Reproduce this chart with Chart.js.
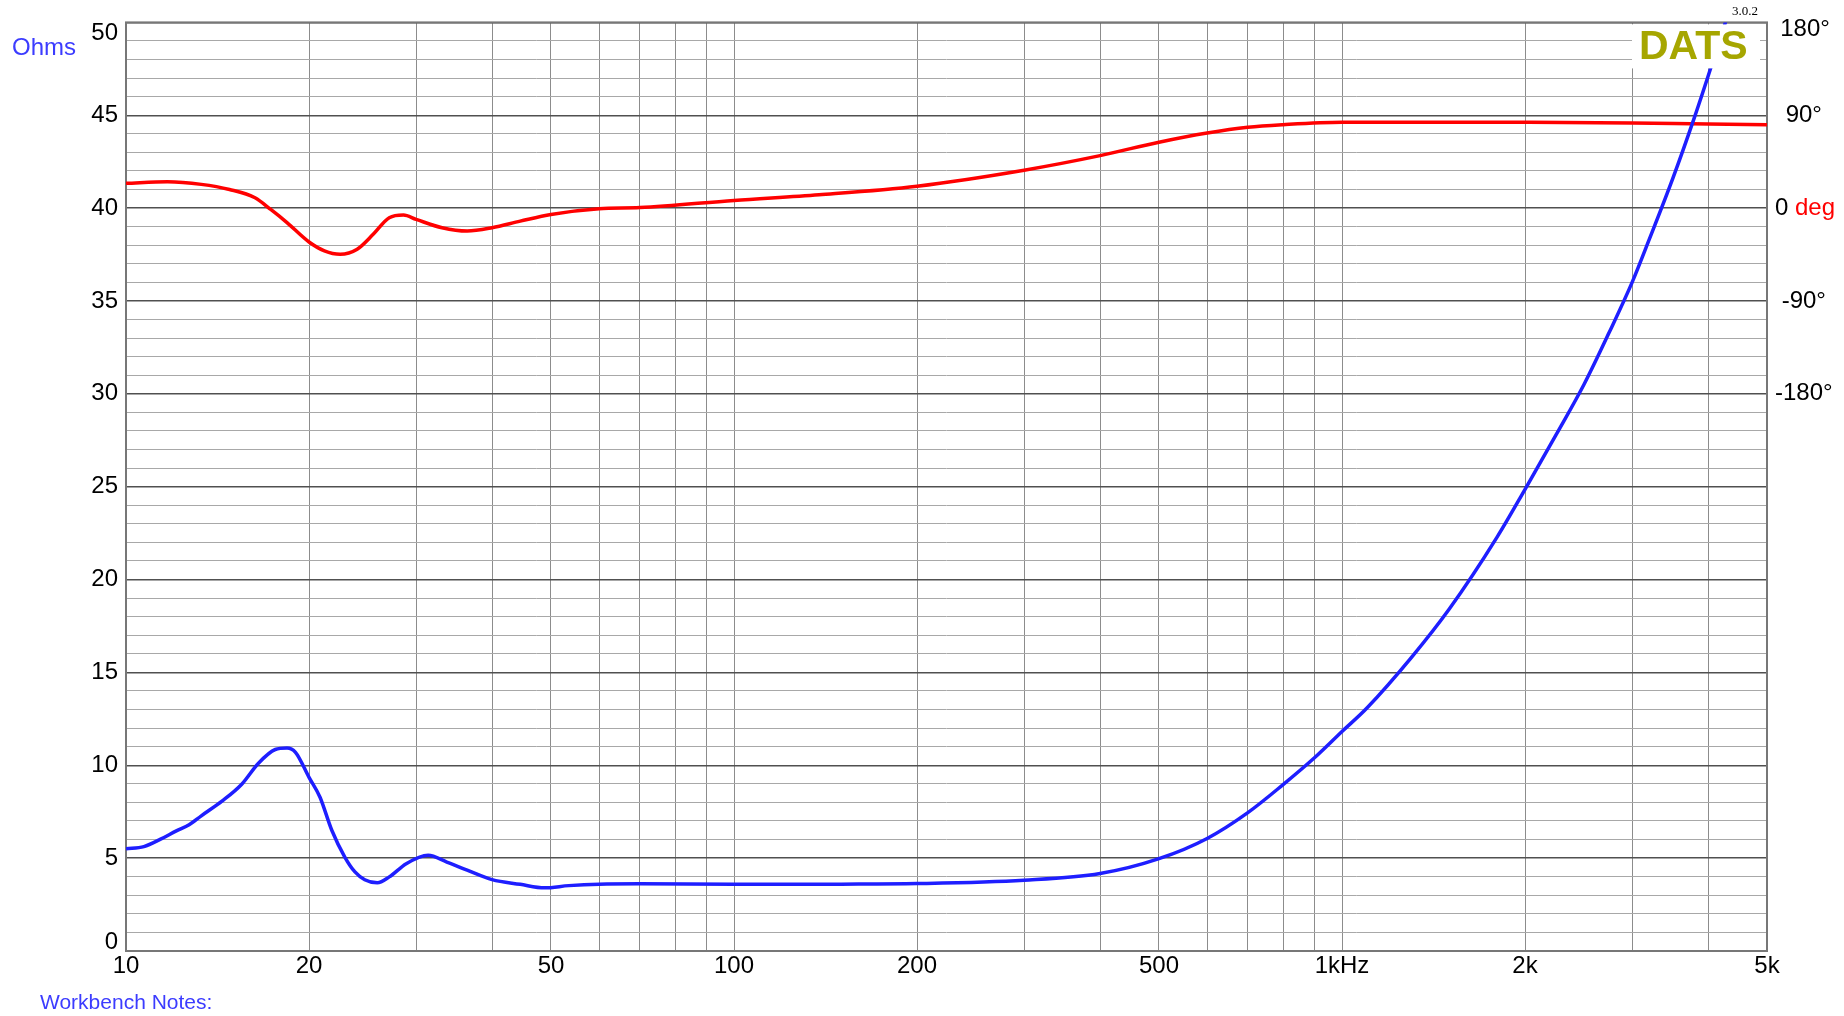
<!DOCTYPE html>
<html>
<head>
<meta charset="utf-8">
<title>Impedance</title>
<script src="https://cdn.jsdelivr.net/npm/chart.js@4.4.1/dist/chart.umd.min.js"></script>
<style>
  html, body { margin: 0; padding: 0; background: #fff; }
  canvas { display: block; }
</style>
</head>
<body>
<canvas id="impchart" width="1844" height="1016"></canvas>
<script>
"use strict";

/* impedance curve (Hz, ohms) */
var impFreq = [10, 10.7, 11.4, 12.1, 12.7, 13.3, 14.4, 15.5, 16.5, 17.6, 18.4, 19.0, 20.0, 20.85, 21.8, 22.9, 23.8, 24.7, 25.9, 27.1, 28.9, 31.4, 33.7, 36.4, 40, 44.5, 48.8, 53.5, 60, 70, 100, 150, 200, 300, 400, 500, 600, 700, 800, 900, 1000, 1100, 1300, 1500, 1800, 2000, 2250, 2500, 2750, 3000, 3200, 3500, 3800, 4000, 4300];
var impOhms = [5.50, 5.62, 6.02, 6.47, 6.80, 7.28, 8.08, 8.98, 10.1, 10.85, 10.93, 10.7, 9.35, 8.28, 6.5, 5.06, 4.26, 3.84, 3.67, 3.99, 4.70, 5.15, 4.79, 4.35, 3.84, 3.59, 3.40, 3.52, 3.60, 3.62, 3.59, 3.60, 3.63, 3.81, 4.17, 4.97, 6.06, 7.45, 8.96, 10.39, 11.82, 13.1, 15.8, 18.4, 22.3, 24.86, 27.8, 30.5, 33.3, 36.0, 38.3, 41.6, 44.9, 47.1, 50.3];

/* phase curve (Hz, degrees) */
var phaseFreq = [10, 11.7, 13.3, 14.8, 16.3, 17.3, 18.4, 20, 21.2, 22.5, 24, 25.5, 27.1, 28.6, 30, 33.1, 36.4, 40, 44.5, 50, 60, 70, 100, 138, 200, 300, 400, 500, 600, 700, 800, 1000, 2000, 3000, 4000, 5000];
var phaseDeg = [24, 25.5, 23, 18, 10, -1.3, -14, -32.8, -41.4, -44.7, -39.8, -25.4, -9.3, -6.7, -10.9, -19, -22.2, -19, -12.6, -6.1, -0.6, 0.5, 7.5, 13, 21.3, 36.8, 50.9, 63.9, 72.8, 78.4, 80.9, 83.2, 83.2, 82.6, 81.5, 80.9];

/* axes */
var xGridFreq = [10, 20, 30, 40, 50, 60, 70, 80, 90, 100, 200, 300, 400, 500, 600, 700, 800, 900, 1000, 2000, 3000, 4000, 5000];
var xTickLabels = { 10: '10', 20: '20', 50: '50', 100: '100', 200: '200', 500: '500', 1000: '1kHz', 2000: '2k', 5000: '5k' };
var phaseTicks = [-180, -90, 0, 90, 180];

var fontFamily = '"Liberation Sans", Arial, Helvetica, sans-serif';

function toPoints(xs, ys) {
    return xs.map(function (x, i) { return { x: x, y: ys[i] }; });
}

var overlayPlugin = {
    id: 'datsOverlay',
    beforeDatasetsDraw: function (chart) {
        var ctx = chart.ctx, a = chart.chartArea;
        ctx.save();
        ctx.strokeStyle = '#777777';
        ctx.lineWidth = 2;
        ctx.strokeRect(a.left, a.top, a.right - a.left, a.bottom - a.top);
        ctx.restore();
    },
    afterDraw: function (chart) {
        var ctx = chart.ctx, a = chart.chartArea;
        var y = chart.scales.y, y2 = chart.scales.y2;
        ctx.save();
        /* DATS badge */
        ctx.fillStyle = '#ffffff';
        ctx.fillRect(a.right - 135, a.top + 2, 128, 44);
        ctx.fillStyle = '#a6a600';
        ctx.font = 'bold 41px ' + fontFamily;
        ctx.textBaseline = 'alphabetic';
        ctx.textAlign = 'left';
        ctx.fillText('DATS', a.right - 128, a.top + 37);
        ctx.fillStyle = '#000000';
        ctx.font = '13px "Liberation Serif", "Times New Roman", serif';
        ctx.fillText('3.0.2', a.right - 35, 15);

        /* end labels, kept inside the frame like the original */
        ctx.font = '24px ' + fontFamily;
        ctx.textBaseline = 'middle';
        ctx.textAlign = 'right';
        ctx.fillText('50', y.right - 8, y.getPixelForValue(50) + 11);
        ctx.fillText('0', y.right - 8, y.getPixelForValue(0) - 9);
        ctx.textAlign = 'center';
        ctx.fillText('180°', y2.left + 38, y2.getPixelForValue(180) + 7);
        ctx.textAlign = 'left';
        ctx.fillText('0', y2.left + 8, y2.getPixelForValue(0));
        var zw = ctx.measureText('0 ').width;
        ctx.fillStyle = '#ff0000';
        ctx.fillText('deg', y2.left + 8 + zw, y2.getPixelForValue(0));

        /* axis titles */
        ctx.fillStyle = '#3c3cff';
        ctx.font = '24px ' + fontFamily;
        ctx.fillText('Ohms', 12, 48);
        ctx.font = '21px ' + fontFamily;
        ctx.fillText('Workbench Notes:', 40, 1003);
        ctx.restore();
    }
};

var impCtx = document.getElementById('impchart').getContext('2d');

var impConfig = {
    type: 'scatter',
    data: {
        datasets: [{
            label: 'Ohms',
            data: toPoints(impFreq, impOhms),
            yAxisID: 'y',
            showLine: true,
            borderColor: '#1e1eff',
            borderWidth: 3.5,
            pointRadius: 0,
            cubicInterpolationMode: 'monotone',
        },
        {
            label: 'Phase',
            data: toPoints(phaseFreq, phaseDeg),
            yAxisID: 'y2',
            showLine: true,
            borderColor: '#ff0000',
            borderWidth: 3.5,
            pointRadius: 0,
            cubicInterpolationMode: 'monotone',
        }]
    },
    options: {
        responsive: false,
        animation: false,
        devicePixelRatio: 1,
        layout: { padding: { top: 19, left: 0, right: 0, bottom: 0 } },
        plugins: {
            legend: { display: false },
            tooltip: { enabled: false },
        },
        scales: {
            x: {
                type: 'logarithmic',
                min: 10,
                max: 5000,
                afterBuildTicks: function (scale) {
                    scale.ticks = xGridFreq.map(function (v) { return { value: v }; });
                },
                afterFit: function (scale) { scale.height = 65; },
                grid: {
                    color: '#8c8c8c',
                    lineWidth: 1,
                    drawTicks: false,
                },
                border: { display: false },
                ticks: {
                    autoSkip: false,
                    maxRotation: 0,
                    padding: 1,
                    color: '#000000',
                    font: { family: fontFamily, size: 24 },
                    callback: function (value) {
                        return xTickLabels[value] || '';
                    }
                }
            },
            y: {
                type: 'linear',
                position: 'left',
                min: 0,
                max: 50,
                afterFit: function (scale) { scale.width = 126; },
                grid: {
                    drawTicks: false,
                    color: function (c) {
                        return c.tick && c.tick.value % 5 === 0 ? '#505050' : '#a8a8a8';
                    },
                    lineWidth: function (c) {
                        return c.tick && c.tick.value % 5 === 0 ? 1.5 : 1;
                    }
                },
                border: { display: false },
                ticks: {
                    stepSize: 1,
                    autoSkip: false,
                    padding: 8,
                    color: '#000000',
                    font: { family: fontFamily, size: 24 },
                    callback: function (value) {
                        if (value === 0 || value === 50) return '';
                        return value % 5 === 0 ? String(value) : '';
                    }
                }
            },
            y2: {
                type: 'linear',
                position: 'right',
                min: -720,
                max: 180,
                afterBuildTicks: function (scale) {
                    scale.ticks = phaseTicks.map(function (v) { return { value: v }; });
                },
                afterFit: function (scale) { scale.width = 77; },
                grid: { display: false, drawTicks: false },
                border: { display: false },
                ticks: {
                    autoSkip: false,
                    crossAlign: 'center',
                    padding: 8,
                    color: '#000000',
                    font: { family: fontFamily, size: 24 },
                    callback: function (value) {
                        if (value === 0 || value === 180) return '';
                        return value + '°';
                    }
                }
            }
        }
    },
    plugins: [overlayPlugin]
};

var impChart = new Chart(impCtx, impConfig);
</script>
</body>
</html>
